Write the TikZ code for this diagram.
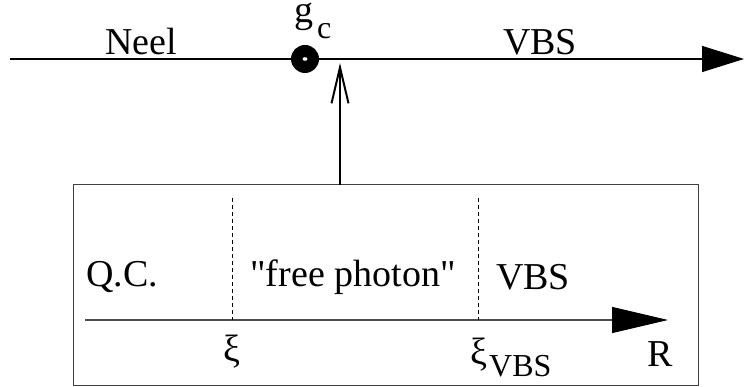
\documentclass[tikz,border=0pt]{standalone}
\usepackage{fontspec}
\setmainfont{Liberation Serif}
\usetikzlibrary{arrows.meta}
\begin{document}
\begin{tikzpicture}[x=1pt,y=1pt,
  lbl/.style={inner sep=0pt,font=\fontsize{38}{44}\selectfont},
  bigtip/.style={-{Triangle[length=42pt,width=26pt]}},
  axtip/.style={-{Triangle[length=56pt,width=26pt,color=black,fill=black]}},
  barb/.style={-{Straight Barb[length=36pt,width=17pt,line width=2pt]}},
  guide/.style={dash pattern=on 4pt off 3pt,line width=1pt}]
\useasboundingbox (0,0) rectangle (744,387);
% phase line with the critical point
\coordinate (L0) at (10,328);
\coordinate (L1) at (744,328);
\draw[line width=1.4pt,bigtip] (L0) -- (L1);
\node[circle,fill=black,minimum size=28pt,inner sep=0pt] (gc) at (305,328) {};
\fill[white] (gc.center) ellipse (2.5pt and 1.8pt);
\node[lbl,anchor=base west,text height=18pt] (gclab) at (294,364) {g\kern4pt\raisebox{-0.42em}{\fontsize{32}{34}\selectfont c}};
\node[lbl] (neel) at (141,345) {Neel};
\node[lbl] (vbs1) at (540,345) {VBS};
% zoom box
\node[draw=black!75,line width=1pt,minimum width=625pt,minimum height=201pt,inner sep=0pt] (box) at (385.5,101.5) {};
\coordinate (tip) at (340,324);
\draw[line width=2pt,barb] (340,202) -- (tip);
% length-scale axis
\coordinate (A0) at (85,67);
\coordinate (A1) at (668,67);
\draw[black!70,line width=1.2pt,axtip] (A0) -- (A1);
\coordinate (d1a) at (232,189);
\coordinate (d1b) at (232,67);
\coordinate (d2a) at (478,189);
\coordinate (d2b) at (478,67);
\draw[guide] (d1a) -- (d1b);
\draw[guide] (d2a) -- (d2b);
\node[lbl] (qc) at (122,110) {Q.C.};
\node[lbl] (free) at (353,110) {\textquotedbl free photon\textquotedbl};
\node[lbl] (vbs2) at (533,110) {VBS};
\node[lbl] (xi) at (232,35) {ξ};
\node[lbl,anchor=base west] (xivbs) at (470,22) {ξ\kern2pt\raisebox{-0.3em}{\fontsize{32}{34}\selectfont VBS}};
\node[lbl] (R) at (660,33) {R};
\end{tikzpicture}
\end{document}
